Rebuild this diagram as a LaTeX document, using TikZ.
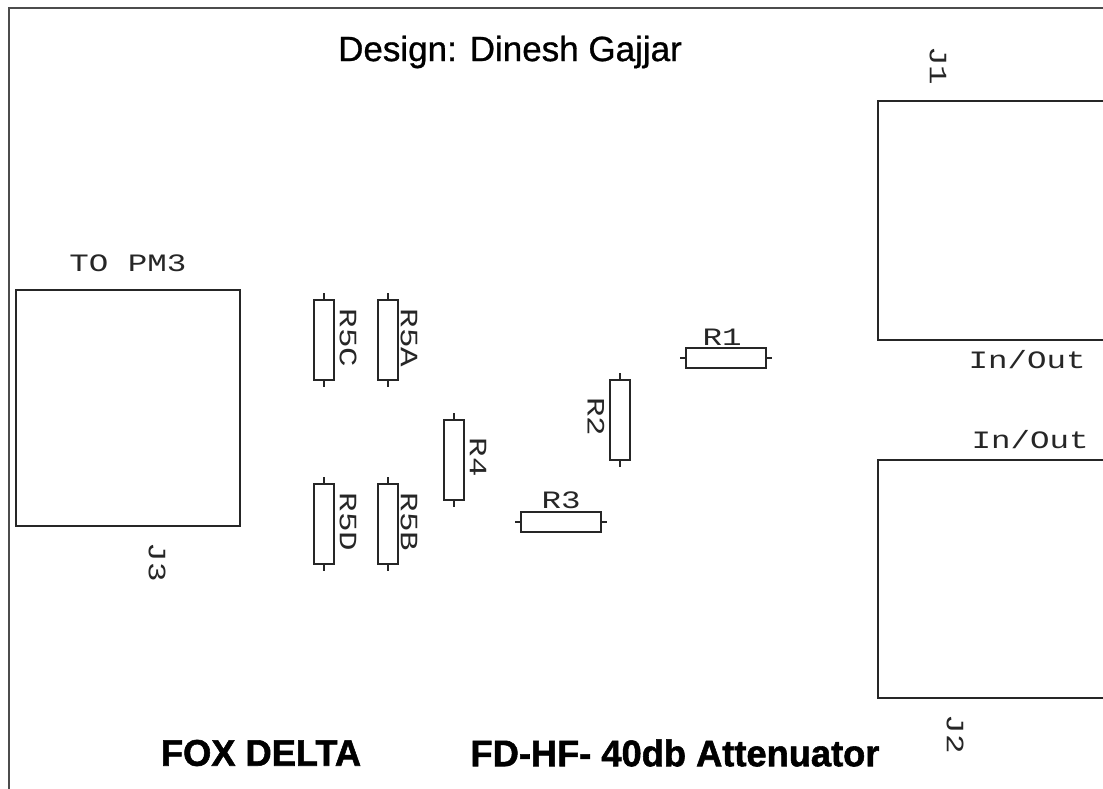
\documentclass[tikz,border=0pt]{standalone}
\usepackage{fontspec}
\setmainfont{Liberation Sans}
\newfontfamily\cadfont{Liberation Mono}
\newfontface\brandfont{Liberation Sans Bold}[FakeBold=1.5]
\newfontface\titlefont{Liberation Sans}[FakeBold=0.8]
\tikzset{
  x=1pt,y=-1pt,
  part/.style={draw=black!85,line width=1.5pt,inner sep=0pt,outer sep=0pt,fill=none},
  vres/.style={part,minimum width=20pt,minimum height=80pt},
  hres/.style={part,minimum width=80pt,minimum height=20pt},
  conn/.style={part,anchor=north west},
  lead/.style={draw=black!85,line width=1.5pt},
  frameline/.style={draw=black!70,line width=1.8pt},
  cad/.style={font=\cadfont\fontsize{25}{25}\selectfont,xscale=1.3,inner sep=0pt,text=black!85},
  cadv/.style={font=\cadfont\fontsize{25}{25}\selectfont,yscale=1.3,rotate=-90,inner sep=0pt,text=black!85},
  title/.style={font=\titlefont\fontsize{35}{35}\selectfont,inner sep=0pt,text=black},
  brand/.style={font=\brandfont\fontsize{37}{37}\selectfont,inner sep=0pt,text=black},
}
\begin{document}
\begin{tikzpicture}
\clip (0,0) rectangle (1103,789);
\fill[white] (0,0) rectangle (1103,789);
% frame
\coordinate (fa) at (9,789);
\coordinate (fb) at (9,8);
\coordinate (fc) at (1103,8);
\draw[frameline] (fa) -- (fb) -- (fc);
% connectors
\node[conn,minimum width=260pt,minimum height=239pt] (J1) at (878,101) {};
\node[conn,minimum width=260pt,minimum height=238pt] (J2) at (878,460) {};
\node[conn,minimum width=224pt,minimum height=236pt] (J3) at (16,290) {};
% resistors
\node[vres] (R5C) at (324,340) {};
\node[vres] (R5A) at (388,340) {};
\node[vres] (R5D) at (324,524) {};
\node[vres] (R5B) at (388,524) {};
\node[vres] (R4) at (454,460) {};
\node[vres] (R2) at (620,420) {};
\node[hres] (R1) at (726,358) {};
\node[hres] (R3) at (561,522) {};
% leads
\foreach \r in {R5C,R5A,R5D,R5B,R4,R2}{
  \draw[lead] (\r.north) -- ++(0,-7);
  \draw[lead] (\r.south) -- ++(0,7);
}
\foreach \r in {R1,R3}{
  \draw[lead] (\r.west) -- ++(-6,0);
  \draw[lead] (\r.east) -- ++(6,0);
}
% labels
\node[title] (t1) at (510,52) {Design: Dinesh Gajjar};
\node[brand,xscale=0.98] (t2) at (261,753) {FOX DELTA};
\node[brand,xscale=0.98] (t3) at (675,753) {FD-HF- 40db Attenuator};
\node[cad] (l1) at (128,263) {TO PM3};
\node[cad] (l2) at (1027,360) {In/Out};
\node[cad] (l3) at (1030,440) {In/Out};
\node[cad] (l4) at (722,337) {R1};
\node[cad] (l5) at (561,500) {R3};
\node[cadv] (l6) at (348,338) {R5C};
\node[cadv] (l7) at (409,338) {R5A};
\node[cadv] (l8) at (348,522) {R5D};
\node[cadv] (l9) at (409,522) {R5B};
\node[cadv] (l10) at (478,457) {R4};
\node[cadv] (l11) at (596,417) {R2};
\node[cadv] (l12) at (938,66) {J1};
\node[cadv] (l13) at (955,734) {J2};
\node[cadv] (l14) at (157,562) {J3};
\end{tikzpicture}
\end{document}
